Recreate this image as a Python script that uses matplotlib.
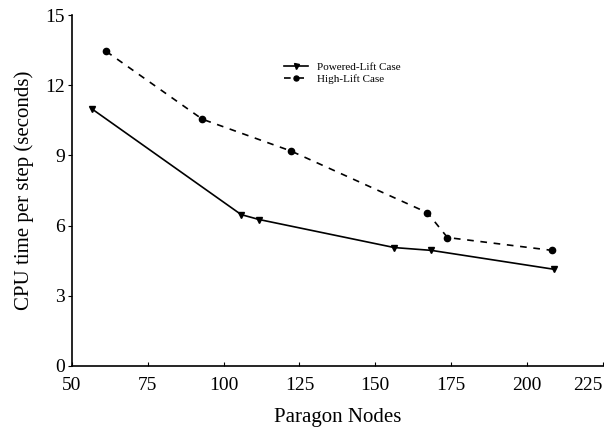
import matplotlib
matplotlib.use("Agg")
import matplotlib.pyplot as plt

# Timing per step on Paragon nodes
powered_nodes = [56.5, 105.8, 111.7, 156.3, 168.5, 209.0]
powered_time = [11.0, 6.47, 6.26, 5.06, 4.94, 4.13]
high_nodes = [61.3, 93.0, 122.2, 167.2, 173.8, 208.3]
high_time = [13.45, 10.55, 9.19, 6.55, 5.49, 4.94]

x_ticks = [50, 75, 100, 125, 150, 175, 200, 225]
y_ticks = [0, 3, 6, 9, 12, 15]

plt.rcParams['font.family'] = ['Liberation Serif', 'DejaVu Serif']

fig = plt.figure(figsize=(6.04, 4.32), dpi=100)
ax = fig.add_axes([0.119, 0.153, 0.879, 0.812])

ax.plot(powered_nodes, powered_time, color='black', linewidth=1.2,
        marker='v', markersize=4.5, label='Powered-Lift Case')
ax.plot(high_nodes, high_time, color='black', linewidth=1.2,
        linestyle=(0, (4, 4)), marker='o', markersize=4.5,
        label='High-Lift Case')

ax.set_xlim(50, 225)
ax.set_ylim(0, 15)
ax.set_xticks(x_ticks)
ax.set_yticks(y_ticks)
ax.tick_params(axis='both', labelsize=14, length=3, width=0.8)
ax.tick_params(axis='x', direction='in', pad=8)
ax.tick_params(axis='y', direction='out', pad=2)

# keep the last x label inside the canvas
ax.get_xticklabels()[-1].set_horizontalalignment('right')

for side in ('top', 'right'):
    ax.spines[side].set_visible(False)
for side in ('left', 'bottom'):
    ax.spines[side].set_linewidth(1.2)

ax.set_xlabel('Paragon Nodes', fontsize=15, labelpad=10)
ax.set_ylabel('CPU time per step (seconds)', fontsize=15, labelpad=8)

leg = ax.legend(loc='upper left', bbox_to_anchor=(0.38, 0.895), frameon=False,
                fontsize=8, handlelength=2.2, handletextpad=0.8,
                labelspacing=0.2, markerscale=0.8)

fig.savefig('out.png', dpi=100)
